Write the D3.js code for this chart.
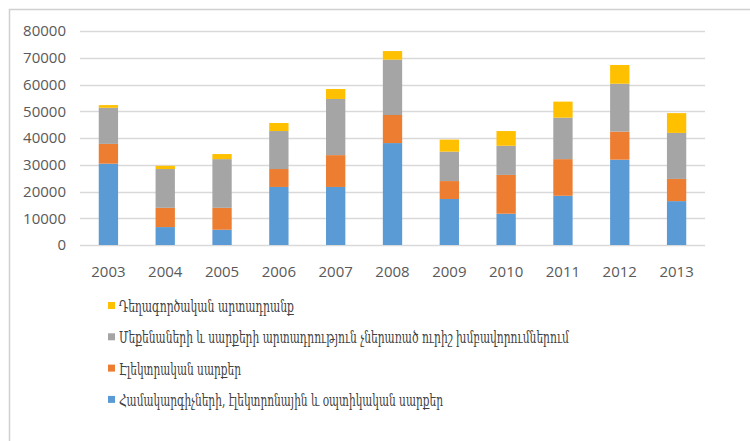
<!DOCTYPE html>
<html>
<head>
<meta charset="utf-8">
<script src="https://cdn.jsdelivr.net/npm/d3@7"></script>
<style>
  body { margin: 0; background: #fff; }
  text { font-family: "Open Sans", "Liberation Sans", sans-serif; }
</style>
</head>
<body>
<div id="chart"></div>
<script>
// Data
const years = ['2003', '2004', '2005', '2006', '2007', '2008', '2009', '2010', '2011', '2012', '2013'];
const computers = [30400, 6700, 5700, 21700, 21700, 38100, 17200, 11700, 18400, 31900, 16400];
const electrical = [7400, 7200, 8200, 6700, 11900, 10500, 6700, 14500, 13700, 10500, 8300];
const machinery = [13500, 14500, 18200, 14200, 21000, 20700, 11000, 10900, 15500, 17900, 17200];
const pharma = [1000, 1200, 1900, 3000, 3700, 3200, 4500, 5500, 6000, 7000, 7400];
const yTicks = [0, 10000, 20000, 30000, 40000, 50000, 60000, 70000, 80000];

const seriesNames = [
    'Համակարգիչների, էլեկտրոնային և օպտիկական սարքեր',
    'Էլեկտրական սարքեր',
    'Մեքենաների և սարքերի արտադրություն չներառած  ուրիշ խմբավորումներում',
    'Դեղագործական արտադրանք'
];
const colors = ['#5b9bd5', '#ed7d31', '#a5a5a5', '#ffc000'];
// legend label widths in the reference, px
const legendWidths = [324, 122, 450, 175];

const width = 750, height = 441;
const plot = { left: 80, right: 705, top: 31, bottom: 245 };

const svg = d3.select('#chart')
    .append('svg')
    .attr('width', width)
    .attr('height', height);

// chart frame
svg.append('path')
    .attr('d', 'M9.5,441 L9.5,9.5 L750,9.5')
    .attr('fill', 'none')
    .attr('stroke', '#d0d0d0')
    .attr('stroke-width', 1.5);

const table = years.map((y, i) => ({
    year: y, s0: computers[i], s1: electrical[i], s2: machinery[i], s3: pharma[i]
}));
const stacked = d3.stack().keys(['s0', 's1', 's2', 's3'])(table);

var x = d3.scaleBand()
    .domain(years)
    .range([plot.left, plot.right])
    .paddingInner(0.66)
    .paddingOuter(0.33);

var y = d3.scaleLinear()
    .domain([0, 80000])
    .range([plot.bottom, plot.top]);

// gridlines
svg.append('g')
    .selectAll('line')
    .data(yTicks)
    .enter()
    .append('line')
    .attr('x1', plot.left)
    .attr('x2', plot.right)
    .attr('y1', d => Math.round(y(d)) + 0.5)
    .attr('y2', d => Math.round(y(d)) + 0.5)
    .attr('stroke', '#d9d9d9')
    .attr('stroke-width', 1.5);

// bars
svg.append('g')
    .selectAll('g')
    .data(stacked)
    .enter()
    .append('g')
    .attr('fill', (d, i) => colors[i])
    .selectAll('rect')
    .data(d => d)
    .enter()
    .append('rect')
    .attr('x', d => x(d.data.year))
    .attr('y', d => y(d[1]))
    .attr('width', x.bandwidth())
    .attr('height', d => y(d[0]) - y(d[1]));

// y axis labels
svg.append('g')
    .attr('transform', 'translate(' + 66 + ',0)')
    .call(d3.axisLeft(y).tickValues(yTicks).tickFormat(d3.format('d')).tickSize(0).tickPadding(0))
    .call(g => g.select('.domain').remove())
    .selectAll('text')
    .attr('fill', '#595959')
    .style('font-size', '15px');

// x axis labels
svg.append('g')
    .attr('transform', 'translate(0,' + 266 + ')')
    .call(d3.axisBottom(x).tickSize(0).tickPadding(0))
    .call(g => g.select('.domain').remove())
    .selectAll('text')
    .attr('fill', '#595959')
    .style('font-size', '15px');

// legend (reverse order, top item is last series)
const legendRows = [3, 2, 1, 0];
const legend = svg.append('g')
    .selectAll('g')
    .data(legendRows)
    .enter()
    .append('g')
    .attr('transform', (d, i) => 'translate(108,' + (307 + i * 31.3) + ')');

legend.append('rect')
    .attr('x', 0)
    .attr('y', -5)
    .attr('width', 7)
    .attr('height', 7)
    .attr('fill', d => colors[d]);

legend.append('text')
    .attr('x', 11)
    .attr('y', 5)
    .attr('fill', '#404040')
    .attr('textLength', d => legendWidths[d])
    .attr('lengthAdjust', 'spacingAndGlyphs')
    .style('font-family', '"DejaVu Serif", "DejaVu Sans", serif')
    .style('font-size', '16px')
    .text(d => seriesNames[d]);
</script>
</body>
</html>
